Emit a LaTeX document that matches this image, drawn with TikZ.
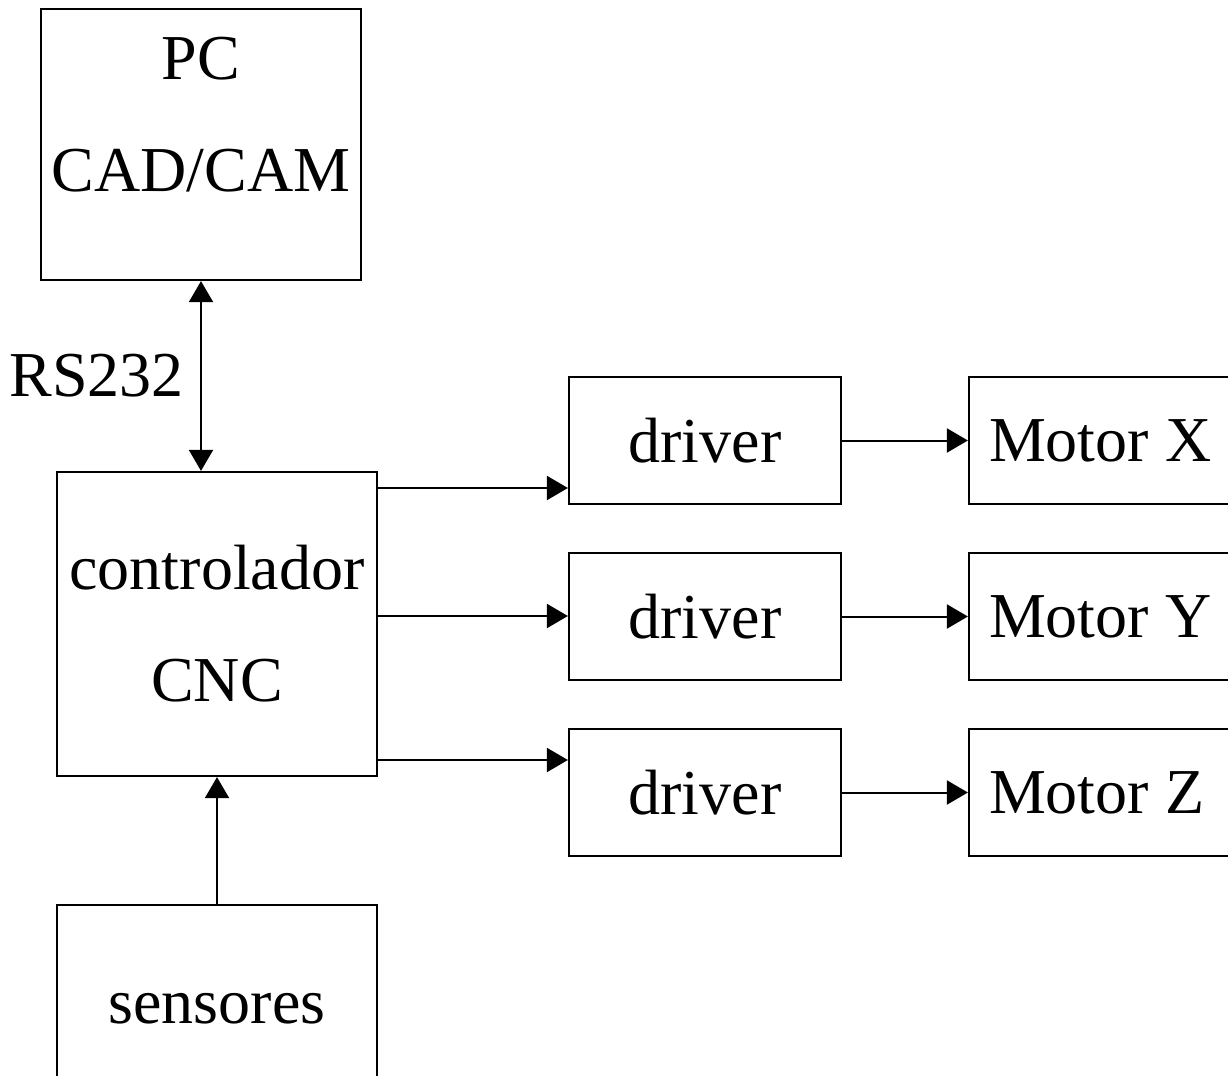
\documentclass[tikz,border=0pt]{standalone}
\usepackage{fontspec}
\setmainfont{Liberation Serif}
\usetikzlibrary{arrows.meta}
\tikzset{
  blk/.style={draw,line width=1.1pt,inner sep=0pt,align=center,font=\fontsize{32}{56}\selectfont},
  drvbox/.style={minimum width=136pt,minimum height=63.5pt},
  motbox/.style={minimum width=131pt,minimum height=63.5pt,text width=111pt,align=flush left},
  arr/.style={line width=1pt,-{Triangle[length=10.5pt,width=12pt]}},
  dblarr/.style={line width=1pt,{Triangle[length=10.5pt,width=12pt]}-{Triangle[length=10.5pt,width=12pt]}}
}
\begin{document}
\begin{tikzpicture}[x=.5pt,y=-.5pt]
\useasboundingbox (0,0) rectangle (1228,1076);
\node[blk,minimum width=160pt,minimum height=135.5pt,text depth=30pt] (pc) at (201,144.5) {PC\\CAD/CAM};
\node[blk,minimum width=160pt,minimum height=152pt] (ctrl) at (217,624) {controlador\\CNC};
\node[blk,minimum width=160pt,minimum height=104pt] (sens) at (217,1009) {sensores};
\draw[dblarr] (pc.south) -- (pc.south |- ctrl.north) node[midway,left=8pt,inner sep=0pt,font=\fontsize{32}{38}\selectfont] (rs) {RS232};
\draw[arr] (sens) -- (ctrl);
\foreach \i/\yd/\ya/\m in {1/440.5/488/X,2/616.5/616/Y,3/792.5/760/Z}{
  \node[blk,drvbox] (drv\i) at (705,\yd) {driver};
  \node[blk,motbox] (mot\i) at (1100,\yd) {\mbox{Motor \m}};
  \coordinate (h\i) at (0,\ya);
  \draw[arr] (ctrl.east |- h\i) -- (drv\i.west |- h\i);
  \draw[arr] (drv\i) -- (mot\i);
}
\end{tikzpicture}
\end{document}
